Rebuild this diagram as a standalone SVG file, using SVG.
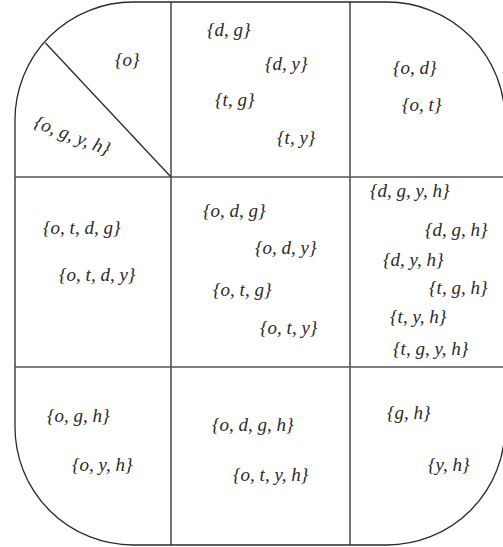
<svg xmlns="http://www.w3.org/2000/svg" width="503" height="547" viewBox="0 0 503 547">
<style>
.ln{fill:none;stroke:#2a2a2a;stroke-width:1.3}
.gl{fill:none;stroke:#555;stroke-width:1.4}
text{font-family:"Liberation Serif","Times New Roman",serif;font-style:italic;font-size:19px;fill:#2a2a2a}
</style>
<rect width="503" height="547" fill="#fff"/>
<g id="connectors">
<path class="ln" d="M15,427 L15,120 A118,118 0 0 1 133,2 L387,2 A118,118 0 0 1 505,120 L505,427 A118,118 0 0 1 387,545 L133,545 A118,118 0 0 1 15,427 Z"/>
<line class="ln" x1="171" y1="2" x2="171" y2="545"/>
<line class="ln" x1="350" y1="2" x2="350" y2="545"/>
<line class="gl" x1="15" y1="177" x2="505" y2="177"/>
<line class="gl" x1="15" y1="367" x2="505" y2="367"/>
<line class="ln" x1="45.5" y1="43" x2="171" y2="177"/>
</g>
<g id="cell-o"><text x="115" y="66">{o}</text></g>
<g id="cell-ogyh"><text transform="translate(33,127) rotate(21)">{o, g, y, h}</text></g>
<g id="cell-top-mid">
<text x="207" y="36">{d, g}</text>
<text x="265" y="70">{d, y}</text>
<text x="215" y="106">{t, g}</text>
<text x="277" y="144">{t, y}</text>
</g>
<g id="cell-top-right">
<text x="393" y="74">{o, d}</text>
<text x="402" y="111">{o, t}</text>
</g>
<g id="cell-mid-left">
<text x="43" y="234">{o, t, d, g}</text>
<text x="59" y="281">{o, t, d, y}</text>
</g>
<g id="cell-mid-mid">
<text x="203" y="217">{o, d, g}</text>
<text x="255" y="254">{o, d, y}</text>
<text x="213" y="296">{o, t, g}</text>
<text x="260" y="334">{o, t, y}</text>
</g>
<g id="cell-mid-right">
<text x="370" y="197">{d, g, y, h}</text>
<text x="425" y="236">{d, g, h}</text>
<text x="383" y="266">{d, y, h}</text>
<text x="429" y="294">{t, g, h}</text>
<text x="390" y="323">{t, y, h}</text>
<text x="393" y="355">{t, g, y, h}</text>
</g>
<g id="cell-bot-left">
<text x="47" y="422">{o, g, h}</text>
<text x="72" y="471">{o, y, h}</text>
</g>
<g id="cell-bot-mid">
<text x="212" y="431">{o, d, g, h}</text>
<text x="233" y="481">{o, t, y, h}</text>
</g>
<g id="cell-bot-right">
<text x="387" y="419">{g, h}</text>
<text x="428" y="471">{y, h}</text>
</g>
</svg>
